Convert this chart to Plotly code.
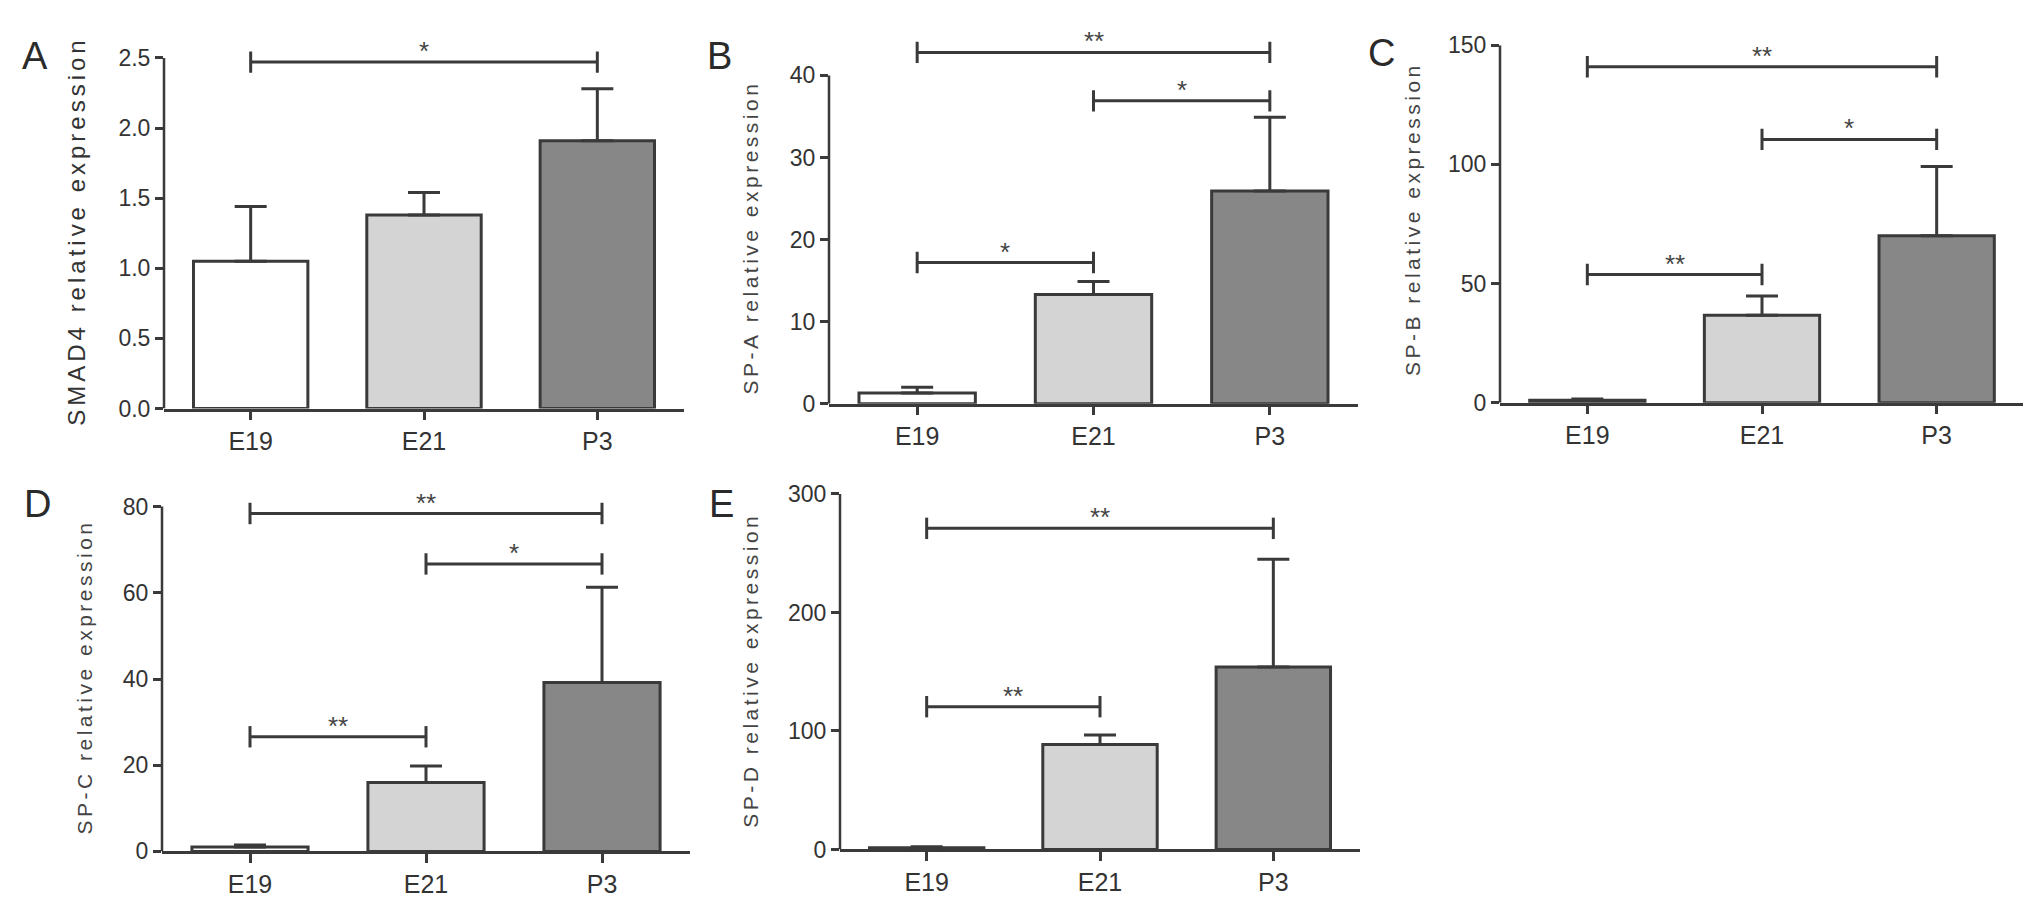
import plotly.graph_objects as go

# groups on the x axis
groups = ["E19", "E21", "P3"]

# mean and SD (upper error bar) per group
smad4_mean = [1.05, 1.38, 1.91]
smad4_sd = [0.39, 0.16, 0.37]

spa_mean = [1.3, 13.3, 25.9]
spa_sd = [0.7, 1.6, 9.0]

spb_mean = [1.0, 36.7, 70.1]
spb_sd = [0.6, 8.1, 29.0]

spc_mean = [1.0, 16.0, 39.2]
spc_sd = [0.5, 3.8, 22.1]

spd_mean = [1.5, 88.5, 154.0]
spd_sd = [0.8, 8.2, 91.0]

# significance brackets: (from group, to group, height, label)
smad4_sig = [(0, 2, 2.47, "*")]
spa_sig = [(0, 2, 42.8, "**"), (1, 2, 36.9, "*"), (0, 1, 17.2, "*")]
spb_sig = [(0, 2, 141.0, "**"), (1, 2, 110.5, "*"), (0, 1, 53.8, "**")]
spc_sig = [(0, 2, 78.4, "**"), (1, 2, 66.7, "*"), (0, 1, 26.6, "**")]
spd_sig = [(0, 2, 271.0, "**"), (0, 1, 120.5, "**")]

W, H = 2031, 904
FONT = "Liberation Sans, Arial, sans-serif"
DARK = "#3a3a3a"
BAR_COLORS = ["#ffffff", "#d4d4d4", "#878787"]
CAP_PX = 11  # half height of the bracket end caps


def spaced(text):
    # GraphPad style letter spaced axis title
    return "\u2006".join(text)


panels = [
    dict(letter="A", label="SMAD4 relative expression", lsize=24, lcolor="#333333",
         mean=smad4_mean, sd=smad4_sd, sig=smad4_sig, ymax=2.5, dtick=0.5, fmt=".1f",
         px=(156, 676), py=(38, 399), lab=(69, 219), let=(27, 36)),
    dict(letter="B", label="SP-A relative expression", lsize=21, lcolor="#444444",
         mean=spa_mean, sd=spa_sd, sig=spa_sig, ymax=40, dtick=10, fmt="d",
         px=(821, 1350), py=(56, 394), lab=(743, 225), let=(711, 36)),
    dict(letter="C", label="SP-B relative expression", lsize=21, lcolor="#444444",
         mean=spb_mean, sd=spb_sd, sig=spb_sig, ymax=150, dtick=50, fmt="d",
         px=(1492, 2016), py=(25, 393), lab=(1404, 206), let=(1373, 33)),
    dict(letter="D", label="SP-C relative expression", lsize=21, lcolor="#444444",
         mean=spc_mean, sd=spc_sd, sig=spc_sig, ymax=80, dtick=20, fmt="d",
         px=(154, 682), py=(500, 855), lab=(77, 677), let=(29, 497)),
    dict(letter="E", label="SP-D relative expression", lsize=21, lcolor="#444444",
         mean=spd_mean, sd=spd_sd, sig=spd_sig, ymax=300, dtick=100, fmt="d",
         px=(832, 1352), py=(487, 853), lab=(743, 670), let=(713, 497)),
]

fig = go.Figure()
annotations = []
shapes = []
layout_axes = {}

for k, p in enumerate(panels):
    sfx = "" if k == 0 else str(k + 1)
    xa, ya = "x" + sfx, "y" + sfx

    # pixel scale of the value axis; extend range if a bracket sits above the top tick
    top_px, base_px = p["py"]
    per_px = p["ymax"] / (base_px - top_px)
    cap = CAP_PX * per_px
    rtop = max(p["ymax"], max(s[2] for s in p["sig"]) + 2 * cap)
    dom_top_px = top_px - (rtop - p["ymax"]) / per_px

    # bars with upper error bars
    fig.add_trace(go.Bar(
        x=groups, y=p["mean"], xaxis=xa, yaxis=ya, width=0.66,
        marker=dict(color=BAR_COLORS, line=dict(color=DARK, width=3)),
        error_y=dict(type="data", symmetric=False, array=p["sd"],
                     arrayminus=[0] * len(groups), color=DARK,
                     thickness=3, width=16),
        showlegend=False, hoverinfo="skip",
    ))

    # significance brackets
    for i0, i1, yv, txt in p["sig"]:
        fig.add_trace(go.Scatter(
            x=[groups[i0], groups[i0], None, groups[i0], groups[i1], None, groups[i1], groups[i1]],
            y=[yv - cap, yv + cap, None, yv, yv, None, yv - cap, yv + cap],
            xaxis=xa, yaxis=ya, mode="lines", cliponaxis=False,
            line=dict(color=DARK, width=3), showlegend=False, hoverinfo="skip",
        ))
        annotations.append(dict(
            x=(i0 + i1) / 2, y=yv, xref=xa, yref=ya, text=txt, showarrow=False,
            xanchor="center", yanchor="bottom", yshift=-6,
            font=dict(family=FONT, size=26, color="#444444"),
        ))

    # y axis line only up to the top tick (GraphPad style)
    shapes.append(dict(
        type="line", xref=xa + " domain", x0=0, x1=0, yref=ya, y0=0, y1=p["ymax"],
        line=dict(color=DARK, width=2.5), layer="above",
    ))

    layout_axes["xaxis" + sfx] = dict(
        domain=[p["px"][0] / W, p["px"][1] / W], anchor=ya,
        type="category", range=[-0.5, 2.5], showline=True, linecolor=DARK, linewidth=2.5,
        ticks="outside", ticklen=9, tickwidth=2.5, tickcolor=DARK,
        tickfont=dict(family=FONT, size=25, color="#333333"),
        showgrid=False, zeroline=False, fixedrange=True,
    )
    layout_axes["yaxis" + sfx] = dict(
        domain=[1 - base_px / H, 1 - dom_top_px / H], anchor=xa,
        range=[0, rtop], tickvals=[v * p["dtick"] for v in range(int(round(p["ymax"] / p["dtick"])) + 1)],
        tickformat=p["fmt"], showline=False,
        ticks="outside", ticklen=8, tickwidth=2.5, tickcolor=DARK,
        tickfont=dict(family=FONT, size=23, color="#333333"),
        showgrid=False, zeroline=False, fixedrange=True,
    )

    # y axis title
    annotations.append(dict(
        x=p["lab"][0] / W, y=1 - p["lab"][1] / H, xref="paper", yref="paper",
        text=spaced(p["label"]), textangle=-90, showarrow=False,
        xanchor="center", yanchor="middle",
        font=dict(family=FONT, size=p["lsize"], color=p["lcolor"]),
    ))
    # panel letter
    annotations.append(dict(
        x=p["let"][0] / W, y=1 - p["let"][1] / H, xref="paper", yref="paper",
        text=p["letter"], showarrow=False, xanchor="center", yanchor="middle",
        font=dict(family=FONT, size=38, color="#2a2a2a"),
    ))

fig.update_layout(
    width=W, height=H,
    margin=dict(l=0, r=0, t=0, b=0),
    paper_bgcolor="white", plot_bgcolor="white",
    annotations=annotations, shapes=shapes,
    **layout_axes,
)

fig.write_html("out.html")
